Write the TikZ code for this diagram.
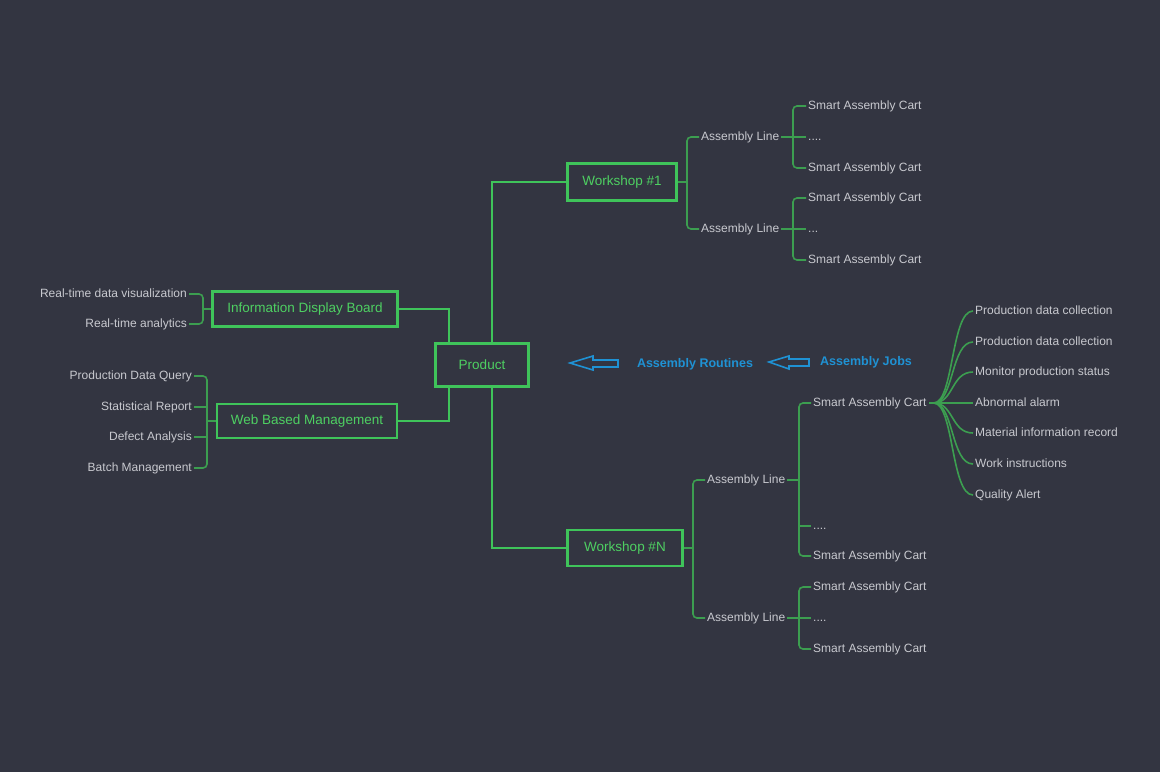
\documentclass[tikz,border=0pt]{standalone}
\usepackage{fontspec}
\setmainfont{Liberation Sans}
\usetikzlibrary{calc}
\definecolor{bgdark}{HTML}{333541}
\definecolor{boxgreen}{HTML}{3FC45A}
\definecolor{boxtext}{HTML}{4ED062}
\definecolor{branchgreen}{HTML}{3C9E50}
\definecolor{leafgray}{HTML}{C8C9CF}
\definecolor{routeblue}{HTML}{1F92D4}

\begin{document}
\begin{tikzpicture}[
  x=1pt, y=-1pt,
  box/.style={draw=boxgreen, line width=2.2pt, text=boxtext, font=\fontsize{13.5}{15}\selectfont, inner sep=0pt},
  leaf/.style={text=leafgray, font=\fontsize{12}{14}\selectfont, inner sep=2pt, text height=1.5ex, text depth=0.1ex},
  trunk/.style={draw=boxgreen, line width=2pt},
  branch/.style={draw=branchgreen, line width=1.6pt, rounded corners=4pt},
  route/.style={text=routeblue, font=\bfseries\fontsize{12.5}{14}\selectfont},
  hollow/.style={draw=routeblue, line width=1.6pt, line join=miter}
]
\fill[bgdark] (0,0) rectangle (1160,772);
\useasboundingbox (0,0) rectangle (1160,772);

% main boxes
\node[box, minimum width=93pt, minimum height=43pt] (prod) at (482,365) {Product};
\node[box, minimum width=185pt, minimum height=35pt] (info) at (305,309) {Information Display Board};
\node[box, minimum width=180pt, minimum height=34pt] (web) at (307,421) {Web Based Management};
\node[box, minimum width=109pt, minimum height=37pt] (ws1) at (622,182) {Workshop \#1};
\node[box, minimum width=115pt, minimum height=36pt] (wsN) at (625,548) {Workshop \#N};

\draw[trunk] (info.east) -| ([xshift=15pt]prod.north west);
\draw[trunk] (web.east) -| ([xshift=15pt]prod.south west);
\draw[trunk] (ws1.west) -| ([xshift=-38pt]prod.north east);
\draw[trunk] (wsN.west) -| ([xshift=-38pt]prod.south east);

% left side
\node[leaf, anchor=east] (rt1) at (189,294) {Real-time data visualization};
\node[leaf, anchor=east] (rt2) at (189,324) {Real-time analytics};
\coordinate (jI) at (203,309);
\draw[branch] (info.west) -- (jI);
\draw[branch] (rt1.east) -| (jI) |- (rt2.east);

\node[leaf, anchor=east] (m1) at (194,376) {Production Data Query};
\node[leaf, anchor=east] (m2) at (194,407) {Statistical Report};
\node[leaf, anchor=east] (m3) at (194,437) {Defect Analysis};
\node[leaf, anchor=east] (m4) at (194,468) {Batch Management};
\coordinate (jW) at (207,421);
\draw[branch] (web.west) -- (jW);
\draw[branch] (m1.east) -| (jW) |- (m4.east);
\draw[branch] (jW |- m2.east) -- (m2.east);
\draw[branch] (jW |- m3.east) -- (m3.east);

% workshop #1
\node[leaf, anchor=west] (al11) at (699,137) {Assembly Line};
\node[leaf, anchor=west] (al12) at (699,229) {Assembly Line};
\coordinate (j1) at (687,182);
\draw[branch] (ws1.east) -- (j1);
\draw[branch] (al11.west) -| (j1) |- (al12.west);

\node[leaf, anchor=west] (c111) at (806,106) {Smart Assembly Cart};
\node[leaf, anchor=west] (d11) at (806,137) {....};
\node[leaf, anchor=west] (c113) at (806,168) {Smart Assembly Cart};
\coordinate (j11) at (793,137);
\draw[branch] (al11.east) -- (d11.west);
\draw[branch] (c111.west) -| (j11) |- (c113.west);

\node[leaf, anchor=west] (c121) at (806,198) {Smart Assembly Cart};
\node[leaf, anchor=west] (d12) at (806,229) {...};
\node[leaf, anchor=west] (c123) at (806,260) {Smart Assembly Cart};
\coordinate (j12) at (793,229);
\draw[branch] (al12.east) -- (d12.west);
\draw[branch] (c121.west) -| (j12) |- (c123.west);

% workshop #N
\node[leaf, anchor=west] (al21) at (705,480) {Assembly Line};
\node[leaf, anchor=west] (al22) at (705,618) {Assembly Line};
\coordinate (j2) at (693,548);
\draw[branch] (wsN.east) -- (j2);
\draw[branch] (al21.west) -| (j2) |- (al22.west);

\node[leaf, anchor=west] (c211) at (811,403) {Smart Assembly Cart};
\node[leaf, anchor=west] (d21) at (811,526) {....};
\node[leaf, anchor=west] (c213) at (811,556) {Smart Assembly Cart};
\coordinate (j21) at (799,480);
\draw[branch] (al21.east) -- (j21);
\draw[branch] (c211.west) -| (j21) |- (c213.west);
\draw[branch] (j21 |- d21.west) -- (d21.west);

\node[leaf, anchor=west] (c221) at (811,587) {Smart Assembly Cart};
\node[leaf, anchor=west] (d22) at (811,618) {....};
\node[leaf, anchor=west] (c223) at (811,649) {Smart Assembly Cart};
\coordinate (j22) at (799,618);
\draw[branch] (al22.east) -- (d22.west);
\draw[branch] (c221.west) -| (j22) |- (c223.west);

% cart tasks
\coordinate (fan) at ([xshift=5pt]c211.east);
\draw[branch] (c211.east) -- (fan);
\foreach \t/\y [count=\i] in {Production data collection/311, Production data collection/342,
    Monitor production status/372, Abnormal alarm/403, Material information record/433,
    Work instructions/464, Quality Alert/495}{
  \node[leaf, anchor=west] (task\i) at (973,\y) {\t};
  \draw[branch] (fan) .. controls ([xshift=20pt]fan) and ([xshift=-22pt]task\i.west) .. (task\i.west);
}

% assembly flow
\node[route] (jobs) at (866,362) {Assembly Jobs};
\node[route] (routines) at (695,364) {Assembly Routines};
\coordinate (ar1) at (570,363);
\coordinate (ar2) at (769,362);
\draw[hollow] (ar1) -- ++(23,-7) -- ++(0,4) -- ++(25,0) -- ++(0,7) -- ++(-25,0) -- ++(0,3) -- cycle;
\draw[hollow] (ar2) -- ++(20,-6) -- ++(0,3) -- ++(20,0) -- ++(0,7) -- ++(-20,0) -- ++(0,3) -- cycle;
\end{tikzpicture}
\end{document}
